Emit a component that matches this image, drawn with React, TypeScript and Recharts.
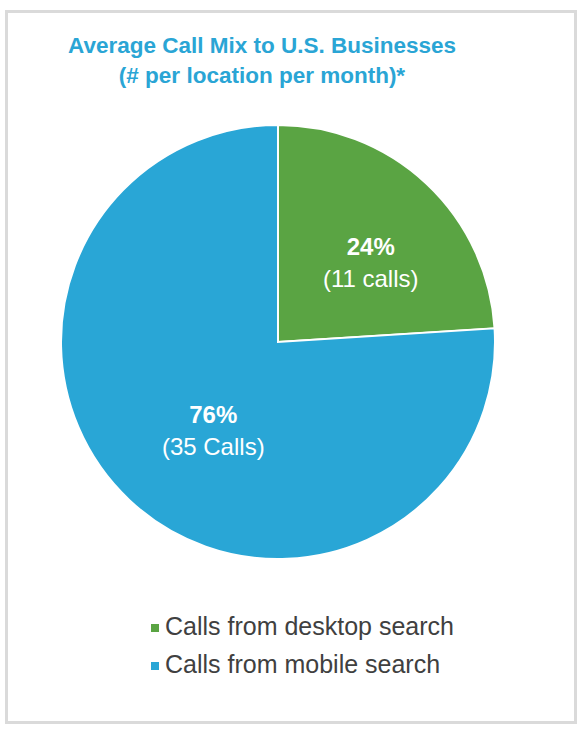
import React from 'react';
import { PieChart, Pie, Cell } from 'recharts';

const categories = ['Calls from desktop search', 'Calls from mobile search'];
const shares = [24, 76];
const callCounts = [11, 35];
const callWords = ['calls', 'Calls'];
const colors = ['#5aa443', '#29a6d6'];

const data = categories.map((name, i) => ({
  name,
  value: shares[i],
  calls: callCounts[i],
  word: callWords[i],
}));

const RADIAN = Math.PI / 180;
const FONT = "'Liberation Sans', Arial, sans-serif";

const SliceLabel = (props: any) => {
  const { cx, cy, midAngle, outerRadius, index } = props;
  const r = outerRadius * 0.53;
  const x = cx + r * Math.cos(-midAngle * RADIAN) + 14;
  const y = cy + r * Math.sin(-midAngle * RADIAN) + 4;
  const d = data[index];
  return (
    <text x={x} y={y} fill="#ffffff" textAnchor="middle" fontFamily={FONT} fontSize={24}>
      <tspan x={x} dy={-7} fontWeight="bold">{d.value}%</tspan>
      <tspan x={x} dy={32}>({d.calls} {d.word})</tspan>
    </text>
  );
};

export default function App() {
  return (
    <div style={{ position: 'absolute', left: 0, top: 0, width: 581, height: 729, background: '#ffffff' }}>
      <div
        style={{
          position: 'absolute',
          left: 5,
          top: 10,
          width: 566,
          height: 708,
          border: '3px solid #dadada',
          background: '#ffffff',
        }}
      />
      <div
        style={{
          position: 'absolute',
          left: 0,
          top: 31,
          width: 524,
          textAlign: 'center',
          fontFamily: FONT,
          fontWeight: 'bold',
          fontSize: 22.5,
          lineHeight: '30px',
          color: '#2aa5d5',
        }}
      >
        Average Call Mix to U.S. Businesses
        <br />
        (# per location per month)*
      </div>
      <div style={{ position: 'absolute', left: 0, top: 0 }}>
        <PieChart width={581} height={729} margin={{ top: 0, right: 0, bottom: 0, left: 0 }}>
          <Pie
            data={data}
            dataKey="value"
            nameKey="name"
            cx={278}
            cy={342}
            outerRadius={217}
            startAngle={90}
            endAngle={-270}
            stroke="#ffffff"
            strokeWidth={2}
            label={SliceLabel}
            labelLine={false}
            isAnimationActive={false}
          >
            {data.map((d, i) => (
              <Cell key={d.name} fill={colors[i]} />
            ))}
          </Pie>
        </PieChart>
      </div>
      <div
        style={{
          position: 'absolute',
          left: 151,
          top: 607,
          fontFamily: FONT,
          fontSize: 25,
          color: '#404040',
        }}
      >
        {data.map((d, i) => (
          <div key={d.name} style={{ display: 'flex', alignItems: 'center', height: 38 }}>
            <span style={{ width: 8, height: 8, background: colors[i], marginRight: 6, marginTop: 3 }} />
            <span>{d.name}</span>
          </div>
        ))}
      </div>
    </div>
  );
}
